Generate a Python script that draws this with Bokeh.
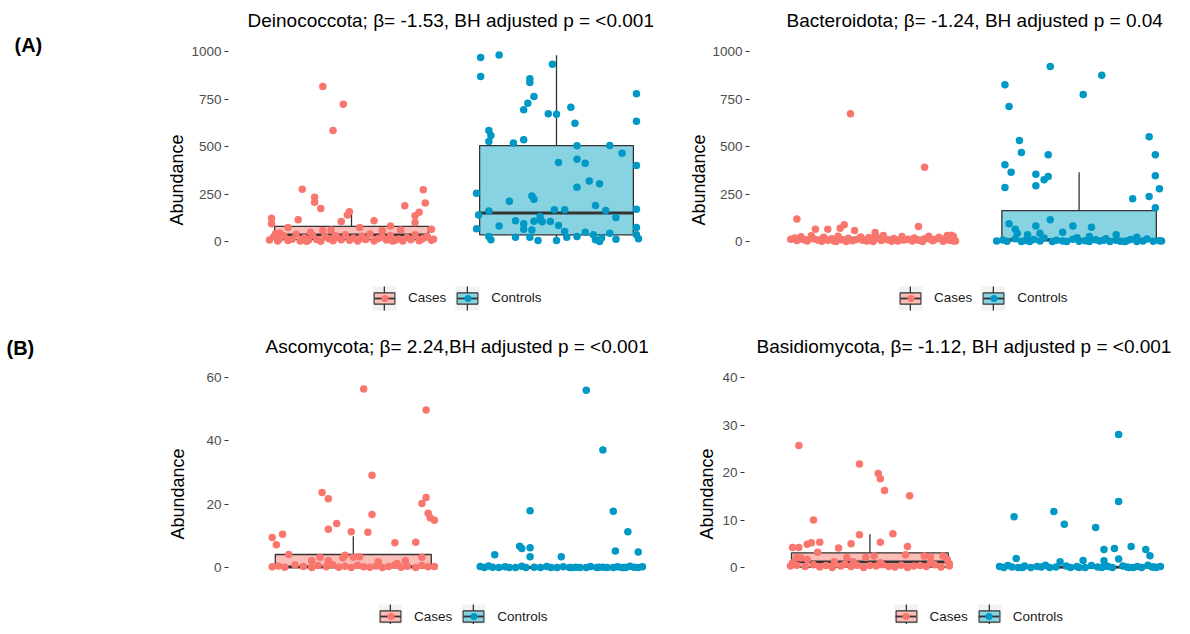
from bokeh.plotting import figure
from bokeh.models import Range1d, FixedTicker, Legend, LegendItem, Label
from bokeh.layouts import column, row
from bokeh.embed import file_html
from bokeh.resources import INLINE

NAN = float("nan")

# ---------------- data ----------------
groups = ["Cases", "Controls"]
panel_tags = ["(A)", "(B)"]

deino_title = "Deinococcota; β= -1.53, BH adjusted p = <0.001"
deino_ticks = [0, 250, 500, 750, 1000]
deino_limits = [0, 1000]
deino_box_cases = [0, 10, 35, 80, 170]        # low whisker, q1, median, q3, high whisker
deino_box_controls = [0, 35, 150, 505, 980]
deino_cases_jitter = [-0.14, -0.04, -0.09, -0.24, -0.18, -0.18, -0.15, -0.01, -0.02, 0.35, 0.36, 0.26, 0.33, 0.31, 0.31,
                      0.11, -0.05, -0.26, -0.39, -0.39, -0.31, 0.39, 0.19, 0.04, 0.15, -0.14, -0.10, -0.20, -0.35, 0.24,
                      -0.40, -0.38, -0.36, -0.35, -0.33, -0.31, -0.29, -0.27, -0.25, -0.23, -0.21, -0.19, -0.17, -0.15,
                      -0.13, -0.11, -0.09, -0.07, -0.05, -0.03, -0.01, 0.01, 0.03, 0.05, 0.07, 0.09, 0.11, 0.13, 0.15,
                      0.17, 0.19, 0.21, 0.23, 0.25, 0.27, 0.29, 0.31, 0.33, 0.35, 0.37, 0.39, 0.40, -0.37, -0.22, -0.08,
                      0.06, 0.20, 0.34]
deino_cases_abund = [816, 723, 584, 275, 233, 207, 174, 156, 139, 272, 202, 188, 154, 135, 100,
                     109, 105, 114, 123, 93, 74, 65, 82, 74, 58, 58, 61, 49, 44, 61,
                     8, 25, 3, 15, 30, 5, 12, 38, 2, 20, 7, 33, 10, 1,
                     28, 14, 4, 22, 9, 35, 6, 18, 2, 27, 11, 40, 3, 16, 24,
                     8, 31, 5, 13, 2, 21, 9, 36, 4, 17, 26, 6, 12, 42, 1, 30,
                     15, 3, 10]
deino_controls_jitter = [-0.37, -0.28, -0.37, -0.02, -0.13, -0.13, 0.39, -0.11, -0.14, -0.16, 0.07, -0.04, 0.00, 0.39,
                         0.09, -0.33, -0.32, -0.33, -0.21, -0.16, 0.10, 0.26, 0.32, 0.01, 0.10, 0.14, 0.39, 0.16, 0.21,
                         0.10, -0.39, -0.12, -0.11, -0.23, 0.19, 0.39, -0.38, -0.33, -0.01, 0.04, 0.24, 0.29, -0.08,
                         -0.07, -0.20, -0.11, -0.16, -0.16, -0.28, -0.39, 0.01, 0.04, 0.14, 0.39, -0.33, -0.32, -0.20,
                         -0.13, -0.09, 0.00, 0.05, 0.10, 0.18, 0.19, 0.22, 0.26, 0.29, 0.39, 0.40, 0.21, -0.12, -0.08,
                         -0.03]
deino_controls_abund = [968, 982, 868, 933, 856, 837, 777, 763, 728, 693, 707, 672, 670, 633,
                        623, 584, 558, 526, 518, 535, 504, 505, 465, 416, 433, 412, 400, 318, 304,
                        286, 254, 240, 223, 212, 189, 170, 139, 161, 167, 167, 163, 126, 132,
                        104, 109, 107, 93, 65, 82, 67, 84, 53, 49, 74, 26, 9, 23,
                        23, 5, 5, 23, 26, 35, 9, 18, 44, 12, 35, 14, 0, 61, 114,
                        105]

bactero_title = "Bacteroidota; β= -1.24, BH adjusted p = 0.04"
bactero_ticks = [0, 250, 500, 750, 1000]
bactero_limits = [0, 1000]
bactero_box_cases = [0, 3, 10, 22, 52]
bactero_box_controls = [0, 3, 10, 163, 365]
bactero_cases_jitter = [-0.11, 0.25, -0.37, -0.14, -0.16, -0.22, -0.28, -0.09, 0.01, 0.22, 0.36, 0.39,
                        -0.40, -0.38, -0.37, -0.35, -0.34, -0.32, -0.30, -0.29, -0.27, -0.25, -0.24, -0.22, -0.20,
                        -0.19, -0.17, -0.15, -0.13, -0.12, -0.10, -0.08, -0.06, -0.05, -0.03, -0.01, 0.00, 0.02,
                        0.04, 0.05, 0.07, 0.09, 0.10, 0.12, 0.14, 0.15, 0.17, 0.19, 0.20, 0.22, 0.24, 0.25, 0.27,
                        0.29, 0.30, 0.32, 0.34, 0.35, 0.37, 0.38, 0.40, -0.33, -0.18, -0.02, 0.13, 0.28, 0.39]
bactero_cases_abund = [672, 391, 118, 88, 70, 65, 65, 58, 47, 79, 32, 26,
                       12, 18, 5, 25, 10, 2, 30, 15, 8, 1, 22, 6, 14,
                       3, 28, 9, 0, 17, 4, 11, 24, 7, 2, 13, 0, 20,
                       5, 31, 9, 1, 16, 3, 26, 8, 12, 2, 19, 6, 0, 14, 27,
                       4, 10, 22, 1, 15, 7, 33, 3, 9, 0, 21, 6, 11, 2]
bactero_controls_jitter = [-0.14, 0.11, -0.36, -0.34, 0.02, -0.29, -0.28, -0.15, 0.34, 0.37, 0.37, 0.39, 0.34, 0.26,
                           0.37, -0.36, -0.33, -0.36, -0.21, -0.21, -0.15, -0.17, -0.34, -0.31, -0.14, -0.21, -0.03,
                           0.06, -0.08, -0.30, -0.25, -0.19, 0.05, 0.18, 0.28,
                           -0.40, -0.37, -0.35, -0.31, -0.28, -0.26, -0.22, -0.19, -0.17, -0.13, -0.11, -0.08, -0.06,
                           -0.03, 0.00, 0.03, 0.05, 0.08, 0.10, 0.13, 0.15, 0.18, 0.20, 0.23, 0.25, 0.28, 0.31, 0.33,
                           0.36, 0.39, -0.24, -0.01, 0.12, 0.22, 0.40]
bactero_controls_abund = [921, 875, 825, 711, 774, 532, 468, 456, 551, 456, 346, 277, 237, 225,
                          177, 404, 365, 284, 354, 293, 342, 325, 93, 65, 114, 82, 82,
                          75, 49, 44, 35, 44, 26, 35, 23,
                          3, 8, 1, 14, 0, 5, 11, 2, 18, 0, 7, 3, 0,
                          12, 1, 4, 0, 9, 2, 15, 0, 6, 1, 3, 10, 0, 2, 13,
                          1, 4, 0, 20, 7, 0, 2]

asco_title = "Ascomycota; β= 2.24,BH adjusted p = <0.001"
asco_ticks = [0, 20, 40, 60]
asco_limits = [0, 60]
asco_box_cases = [0, 0, 0.2, 4.1, 9.9]
asco_box_controls = [0, 0, 0, 0, 0]
asco_cases_jitter = [0.05, 0.35, 0.09, -0.15, -0.12, 0.35, 0.33, 0.09, 0.36, 0.37, 0.39, -0.08, -0.12, -0.01, 0.07,
                     -0.39, -0.34, -0.37, 0.20, 0.30, -0.31, 0.33, -0.04, 0.03, -0.16, -0.20, -0.12, -0.05, 0.00,
                     0.12, 0.21, 0.25,
                     -0.39, -0.36, -0.33, -0.28, -0.24, -0.20, -0.17, -0.13, -0.10, -0.07, -0.04, -0.01, 0.02,
                     0.05, 0.08, 0.11, 0.14, 0.17, 0.20, 0.23, 0.26, 0.30, 0.33, 0.36, 0.39]
asco_cases_abund = [56.4, 49.7, 29.1, 23.7, 21.7, 22.1, 20.2, 16.7, 17.1, 15.7, 14.9, 13.9, 12.1, 11.3, 11.1,
                    9.5, 10.5, 7.2, 7.8, 8.0, 4.1, 3.2, 3.9, 3.4, 3.2, 2.1, 2.1, 3.1, 3.2,
                    1.8, 1.3, 2.1,
                    0.2, 0.5, 0.1, 0.8, 0.3, 0.0, 0.6, 0.2, 0.9, 0.1, 0.4, 0.0, 0.7,
                    0.2, 0.1, 0.5, 0.0, 0.3, 0.8, 0.1, 0.4, 0.0, 0.6, 0.2, 0.3]
asco_controls_jitter = [0.12, 0.20, -0.15, 0.25, 0.32, -0.20, -0.19, -0.15, -0.15, -0.32, 0.00, 0.26, 0.37,
                        -0.39, -0.37, -0.35, -0.33, -0.30, -0.27, -0.22, -0.19, -0.17, -0.13, -0.10, -0.07, -0.05,
                        -0.02, 0.01, 0.04, 0.07, 0.09, 0.12, 0.14, 0.17, 0.20, 0.22, 0.25, 0.27, 0.29, 0.31, 0.33,
                        0.35, 0.37, 0.39, -0.25, 0.05, 0.18, 0.30]
asco_controls_abund = [56.0, 37.1, 17.9, 17.8, 11.3, 6.7, 6.0, 6.2, 3.4, 4.0, 3.4, 5.2, 4.9,
                       0.3, 0.0, 0.5, 0.1, 0.0, 0.2, 0.0, 0.4, 0.0, 0.1, 0.0, 0.3, 0.0,
                       0.0, 0.2, 0.0, 0.1, 0.0, 0.0, 0.3, 0.0, 0.1, 0.0, 0.0, 0.2, 0.0, 0.0, 0.4,
                       0.1, 0.0, 0.2, 0.0, 0.0, 0.1, 0.0]

basidio_title = "Basidiomycota, β= -1.12, BH adjusted p = <0.001"
basidio_ticks = [0, 10, 20, 30, 40]
basidio_limits = [0, 40]
basidio_box_cases = [0, 0.1, 1.2, 3.1, 7.0]
basidio_box_controls = [0, 0, 0.1, 0.2, 0.5]
basidio_cases_jitter = [-0.34, -0.05, 0.04, 0.05, 0.07, 0.19, -0.27, -0.05, 0.11, -0.37, -0.34, -0.30, -0.28, -0.24,
                        -0.09, 0.05, 0.18, -0.15, -0.25, 0.17, -0.37, -0.35, -0.33, -0.30, -0.11, -0.02, 0.02, 0.26,
                        0.29, 0.35, 0.37, 0.38, -0.17, -0.08, 0.05, 0.29,
                        -0.38, -0.35, -0.31, -0.27, -0.24, -0.21, -0.18, -0.14, -0.12, -0.09, -0.06, -0.03, 0.00,
                        0.03, 0.06, 0.09, 0.12, 0.15, 0.18, 0.21, 0.24, 0.27, 0.31, 0.34, 0.38]
basidio_cases_abund = [25.7, 21.8, 19.8, 18.7, 16.2, 15.1, 10.0, 6.9, 7.1, 4.2, 4.2, 4.9, 5.2, 5.3,
                       5.0, 5.3, 4.4, 4.1, 3.2, 2.7, 1.0, 2.1, 2.0, 1.7, 2.1, 2.1, 2.4, 2.4,
                       2.2, 2.4, 1.7, 0.8, 1.2, 1.2, 1.0, 1.0,
                       0.3, 0.5, 0.2, 0.6, 0.1, 0.4, 0.0, 0.3, 0.7, 0.2, 0.5, 0.0, 0.4,
                       0.3, 0.6, 0.2, 0.1, 0.5, 0.0, 0.3, 0.4, 0.2, 0.6, 0.1, 0.3]
basidio_controls_jitter = [0.19, 0.19, -0.12, -0.31, -0.07, 0.08, 0.25, 0.12, 0.17, 0.32, 0.34, -0.30, 0.19, 0.02,
                           -0.09, 0.12,
                           -0.38, -0.36, -0.34, -0.32, -0.29, -0.26, -0.23, -0.20, -0.16, -0.14, -0.11, -0.06, -0.04,
                           -0.01, 0.03, 0.06, 0.09, 0.11, 0.14, 0.16, 0.21, 0.23, 0.26, 0.28, 0.30, 0.33, 0.35, 0.37,
                           0.39, -0.27, -0.18, 0.00, 0.13, 0.24, 0.36]
basidio_controls_abund = [28.0, 13.9, 11.8, 10.7, 9.1, 8.4, 4.4, 3.8, 4.0, 3.8, 2.5, 1.9, 1.8, 1.5,
                          1.2, 1.4,
                          0.2, 0.0, 0.4, 0.1, 0.0, 0.3, 0.0, 0.2, 0.5, 0.0, 0.1, 0.3, 0.0,
                          0.2, 0.0, 0.4, 0.1, 0.0, 0.2, 0.0, 0.3, 0.1, 0.0, 0.2, 0.0, 0.5, 0.1, 0.0,
                          0.2, 0.0, 0.1, 0.0, 0.3, 0.0, 0.1]

# ---------------- style / layout ----------------
FONT = "Liberation Sans"
POINT_COLORS = ["#F8766D", "#0099C6"]
BOX_FILLS = ["#FBBDB8", "#88D3E2"]
EDGE = "#333333"
KEY_BG = "#F2F2F2"
DATA_H = 209          # pixel height of the ggplot panel (limits + 5% padding)
BOX_HALF = 0.375
KEY = 30
KEY_STANDOFF = 9
KEY_SPACING = 6
KEY_LABEL_W = 38      # width reserved by the stacked (label-less) key layers
TAG_W = 60
ROW_H = [318, 300]
TOP_BORDER = [31, 39]
TOP_SLACK = 4.5       # px between the frame top and the nominal panel top
BOTTOM_BORDER = [2, 0]
LABEL_FONT_SIZE = "13.5px"


def frame_height(row_i):
    return ROW_H[row_i] - TOP_BORDER[row_i] - BOTTOM_BORDER[row_i]


def build_panel(title, ticks, limits, box_stats, points, frame_w, unit, row_i, left_border,
                title_offset, legend_xy, label_standoff):
    pad = 0.05 * (limits[1] - limits[0])
    per_px = (limits[1] - limits[0] + 2 * pad) / DATA_H
    frame_h = frame_height(row_i)
    y_end = limits[1] + pad + TOP_SLACK * per_px
    y_start = y_end - frame_h * per_px
    p = figure(frame_width=frame_w, frame_height=frame_h,
               x_range=Range1d(0.4, 0.4 + frame_w / unit),
               y_range=Range1d(y_start, y_end),
               x_axis_location=None, output_backend="svg", toolbar_location=None,
               min_border_left=left_border, min_border_right=0,
               min_border_top=TOP_BORDER[row_i], min_border_bottom=BOTTOM_BORDER[row_i])
    p.title.text = title
    p.title.text_font = FONT
    p.title.text_font_size = "19px"
    p.title.text_font_style = "normal"
    p.title.text_color = "#000000"
    p.title.align = "left"
    p.title.offset = title_offset
    p.title.standoff = 14
    p.grid.visible = False
    p.outline_line_color = None
    p.background_fill_color = "white"
    p.border_fill_color = "white"

    ax = p.yaxis[0]
    ax.ticker = FixedTicker(ticks=ticks)
    ax.axis_label = "Abundance"
    ax.axis_label_text_font = FONT
    ax.axis_label_text_font_size = "18px"
    ax.axis_label_text_font_style = "normal"
    ax.axis_label_text_color = "#000000"
    ax.axis_label_standoff = label_standoff
    ax.major_label_text_font = FONT
    ax.major_label_text_font_size = LABEL_FONT_SIZE
    ax.major_label_text_color = "#4D4D4D"
    ax.major_label_standoff = 3
    ax.major_tick_line_color = EDGE
    ax.major_tick_out = 4
    ax.major_tick_in = 0
    ax.minor_tick_line_color = None
    ax.axis_line_color = None

    # boxplots
    for gi, (lo, q1, med, q3, hi) in enumerate(box_stats):
        c = gi + 1
        p.segment(x0=[c, c], y0=[q3, q1], x1=[c, c], y1=[hi, lo], line_color=EDGE, line_width=1.3)
        p.quad(left=[c - BOX_HALF], right=[c + BOX_HALF], bottom=[q1], top=[q3],
               fill_color=BOX_FILLS[gi], line_color=EDGE, line_width=1.3)
        p.segment(x0=[c - BOX_HALF], x1=[c + BOX_HALF], y0=[med], y1=[med], line_color=EDGE, line_width=2.8)

    # jittered points
    for gi, (jit, vals) in enumerate(points):
        p.scatter(x=[gi + 1 + d for d in jit], y=vals, size=7.5,
                  fill_color=POINT_COLORS[gi], line_color=None)

    # legend key proxies (not drawn in the panel: NaN coordinates)
    q = dict(left=[NAN], right=[NAN], bottom=[NAN], top=[NAN])
    bg = p.quad(**q, fill_color=KEY_BG, line_color=None)
    wh = p.quad(**q, fill_color=EDGE, line_color=None)
    kbox = [p.quad(**q, fill_color=BOX_FILLS[g], line_color=EDGE, line_width=1.1) for g in range(2)]
    kmed = p.segment(x0=[NAN], y0=[NAN], x1=[NAN], y1=[NAN], line_color=EDGE, line_width=1.8)
    kdot = [p.scatter(x=[NAN], y=[NAN], size=7, fill_color=POINT_COLORS[g], line_color=None) for g in range(2)]
    layers = [
        ([[bg], [bg]], KEY, KEY),
        ([[wh], [wh]], 2, KEY),
        ([[kbox[0]], [kbox[1]]], 26, 14),
        ([[kmed, kdot[0]], [kmed, kdot[1]]], 21, 18),
    ]
    lx, ly = legend_xy
    for li, (rs, gw, gh) in enumerate(layers):
        if li == 0:
            items = [LegendItem(label=groups[g], renderers=rs[g]) for g in range(2)]
            extra = dict(label_standoff=KEY_STANDOFF, label_text_color="#1A1A1A")
        else:
            items = [LegendItem(label=" ", renderers=rs[g]) for g in range(2)]
            extra = dict(label_standoff=KEY_STANDOFF + (KEY - gw), label_width=KEY_LABEL_W,
                         label_text_alpha=0)
        leg = Legend(items=items, orientation="horizontal",
                     location=(lx + (KEY - gw) / 2, ly),
                     glyph_width=gw, glyph_height=gh, spacing=KEY_SPACING,
                     padding=0, margin=0, border_line_color=None, background_fill_alpha=0,
                     label_height=KEY, label_text_font=FONT, label_text_font_size=LABEL_FONT_SIZE,
                     **extra)
        p.add_layout(leg)
    return p


def build_tag(row_i, title_text=None, label=None):
    fh = frame_height(row_i)
    t = figure(frame_width=TAG_W, frame_height=fh, x_range=Range1d(0, TAG_W), y_range=Range1d(0, fh),
               x_axis_location=None, y_axis_location=None, output_backend="svg",
               toolbar_location=None, min_border_left=0, min_border_right=0,
               min_border_top=TOP_BORDER[row_i], min_border_bottom=BOTTOM_BORDER[row_i])
    t.grid.visible = False
    t.outline_line_color = None
    t.title.text = title_text or ""
    t.title.text_font = FONT
    t.title.text_font_size = "20px"
    t.title.text_font_style = "bold"
    t.title.text_color = "#000000"
    t.title.align = "left"
    t.title.offset = 6
    t.title.standoff = 9
    if label is not None:
        text, tx, below_top = label
        t.add_layout(Label(x=tx, y=fh - below_top, text=text, text_font=FONT, text_font_size="20px",
                           text_font_style="bold", text_color="#000000",
                           text_baseline="middle", text_align="left"))
    return t


tag_a = build_tag(0, label=(panel_tags[0], 14, 7))
tag_b = build_tag(1, title_text=panel_tags[1])

p1 = build_panel(deino_title, deino_ticks, deino_limits,
                 [deino_box_cases, deino_box_controls],
                 [(deino_cases_jitter, deino_cases_abund), (deino_controls_jitter, deino_controls_abund)],
                 456, 205, 0, 168, 19, (141, 9.5), 1)
p2 = build_panel(bactero_title, bactero_ticks, bactero_limits,
                 [bactero_box_cases, bactero_box_controls],
                 [(bactero_cases_jitter, bactero_cases_abund), (bactero_controls_jitter, bactero_controls_abund)],
                 425, 206, 0, 65, 37, (146, 9.5), 0)
p3 = build_panel(asco_title, asco_ticks, asco_limits,
                 [asco_box_cases, asco_box_controls],
                 [(asco_cases_jitter, asco_cases_abund), (asco_controls_jitter, asco_controls_abund)],
                 458, 208, 1, 168, 37, (147, -7), 15)
p4 = build_panel(basidio_title, basidio_ticks, basidio_limits,
                 [basidio_box_cases, basidio_box_controls],
                 [(basidio_cases_jitter, basidio_cases_abund), (basidio_controls_jitter, basidio_controls_abund)],
                 430, 209, 1, 58, 12, (146.5, -7), 2)

layout = column(row(tag_a, p1, p2, spacing=0), row(tag_b, p3, p4, spacing=0), spacing=0)
open("out.html", "w").write(file_html(layout, INLINE))
